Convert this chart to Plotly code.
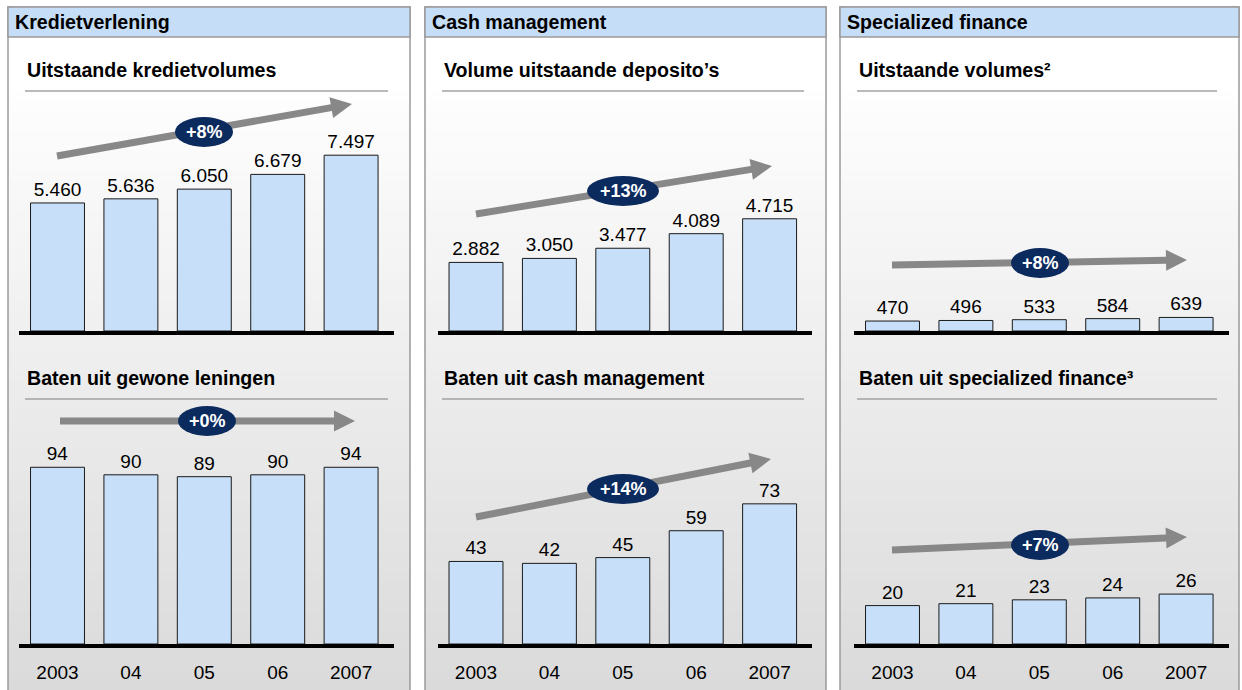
import math
import plotly.graph_objects as go

W, H = 1242, 690

# ---------------- data ----------------
years = ["2003", "04", "05", "06", "2007"]
panel_titles = ["Kredietverlening", "Cash management", "Specialized finance"]
top_titles = ["Uitstaande kredietvolumes", "Volume uitstaande deposito\u2019s", "Uitstaande volumes\u00b2"]
bottom_titles = ["Baten uit gewone leningen", "Baten uit cash management", "Baten uit specialized finance\u00b3"]

krediet_volumes = [5460, 5636, 6050, 6679, 7497]
deposito_volumes = [2882, 3050, 3477, 4089, 4715]
specialized_volumes = [470, 496, 533, 584, 639]
baten_leningen = [94, 90, 89, 90, 94]
baten_cash = [43, 42, 45, 59, 73]
baten_specialized = [20, 21, 23, 24, 26]

top_growth = ["+8%", "+13%", "+8%"]
bottom_growth = ["+0%", "+14%", "+7%"]

# ---------------- styling / layout helpers ----------------
FONT = "Arial, Liberation Sans, sans-serif"
BAR_FILL = "#c7dff8"
HEADER_FILL = "#c6ddf7"
BORDER = "#9a9a9a"
ARROW = "#888888"
NAVY = "#0b2a5e"
TITLE_SIZE = 19.6

def px(x):
    return x / W

def py(y):
    return 1 - y / H

panel_x = [(8, 410), (425, 826), (840, 1239)]
first_center = [57.5, 476, 892.5]
step = 73.4
xr = (-0.52, 4.58)
top_base, top_top = 331, 150
bot_base, bot_top = 644, 460
top_scale = [0.02345, 0.0238, 0.0212]
bot_scale = [1.88, 1.92, 1.92]

top_series = [krediet_volumes, deposito_volumes, specialized_volumes]
bot_series = [baten_leningen, baten_cash, baten_specialized]

# arrows: (tail x, tail y, tip x, tip y), badge centre
top_arrows = [(57, 156, 352, 104), (476, 214, 772, 166), (892, 265, 1187, 260)]
bot_arrows = [(60, 421, 355, 421), (476, 517, 771, 459), (892, 550, 1187, 537)]
top_badges = [(204, 132), (623, 191), (1040, 263)]
bot_badges = [(207, 421), (623, 489), (1040, 545)]

fig = go.Figure()
shapes = []
annotations = []

# gradient background
n_strips = 60
g0, g1 = 91, H
for i in range(n_strips):
    y0 = g0 + (g1 - g0) * i / n_strips
    y1 = g0 + (g1 - g0) * (i + 1) / n_strips + 0.5
    t = (i + 0.5) / n_strips
    c = int(round(254 - t * (254 - 218)))
    shapes.append(dict(type="rect", xref="paper", yref="paper", layer="below",
                       x0=0, x1=1, y0=py(y1), y1=py(y0), line=dict(width=0),
                       fillcolor=f"rgb({c},{c},{c})"))
# white gaps between panels
for (a, b) in [(0, 8), (410, 425), (826, 840), (1239, W)]:
    shapes.append(dict(type="rect", xref="paper", yref="paper", layer="below",
                       x0=px(a), x1=px(b), y0=0, y1=1, line=dict(width=0), fillcolor="white"))

for p in range(3):
    x0, x1 = panel_x[p]
    # panel frame
    shapes.append(dict(type="rect", xref="paper", yref="paper", layer="below",
                       x0=px(x0), x1=px(x1), y0=py(H + 5), y1=py(7),
                       line=dict(color=BORDER, width=1.5), fillcolor="rgba(0,0,0,0)"))
    # header
    shapes.append(dict(type="rect", xref="paper", yref="paper", layer="below",
                       x0=px(x0), x1=px(x1), y0=py(37), y1=py(7),
                       line=dict(color=BORDER, width=1.5), fillcolor=HEADER_FILL))
    annotations.append(dict(xref="paper", yref="paper", x=px(x0 + 5), y=py(22),
                            xanchor="left", yanchor="middle", showarrow=False,
                            text=f"<b>{panel_titles[p]}</b>",
                            font=dict(family=FONT, size=TITLE_SIZE, color="black")))
    # sub titles and rules
    for title, ty, ly in [(top_titles[p], 70, 91), (bottom_titles[p], 378, 399)]:
        annotations.append(dict(xref="paper", yref="paper", x=px(x0 + 17), y=py(ty),
                                xanchor="left", yanchor="middle", showarrow=False,
                                text=f"<b>{title}</b>",
                                font=dict(family=FONT, size=TITLE_SIZE, color="black")))
        shapes.append(dict(type="line", xref="paper", yref="paper",
                           x0=px(x0 + 17), x1=px(x1 - 22), y0=py(ly), y1=py(ly),
                           line=dict(color="#a3a3a3", width=1.5)))

    # axes domains
    c0 = first_center[p]
    dx0 = c0 + xr[0] * step
    dx1 = c0 + xr[1] * step
    for row, (series, base, top, scale) in enumerate(
            [(top_series[p], top_base, top_top, top_scale[p]),
             (bot_series[p], bot_base, bot_top, bot_scale[p])]):
        idx = p * 2 + row + 1
        xa = "x" if idx == 1 else f"x{idx}"
        ya = "y" if idx == 1 else f"y{idx}"
        fig.add_trace(go.Bar(
            x=list(range(5)), y=series, xaxis=xa, yaxis=ya,
            width=0.735, marker=dict(color=BAR_FILL, line=dict(color="#1a1a1a", width=1)),
            texttemplate="%{y:,.0f}", textposition="outside", cliponaxis=False,
            textfont=dict(family=FONT, size=19, color="black"),
            hoverinfo="skip", showlegend=False))
        xkey = "xaxis" if idx == 1 else f"xaxis{idx}"
        ykey = "yaxis" if idx == 1 else f"yaxis{idx}"
        fig.layout[xkey] = dict(
            domain=[px(dx0), px(dx1)], anchor=ya, range=list(xr),
            tickmode="array", tickvals=list(range(5)), ticktext=years,
            showticklabels=(row == 1), ticks="outside" if row == 1 else "",
            ticklen=8, tickcolor="rgba(0,0,0,0)",
            tickfont=dict(family=FONT, size=19, color="black"),
            showline=True, linecolor="black", linewidth=3.5,
            showgrid=False, zeroline=False, fixedrange=True)
        fig.layout[ykey] = dict(
            domain=[py(base), py(top)], anchor=xa,
            range=[0, (base - top) / scale],
            visible=False, showgrid=False, zeroline=False, fixedrange=True)

# arrows and badges
def arrow_path(tx, ty, hx, hy, shaft=3.5, head_w=10.5, head_l=21):
    L = math.hypot(hx - tx, hy - ty)
    ux, uy = (hx - tx) / L, (hy - ty) / L
    nx, ny = -uy, ux
    bx, by = hx - ux * head_l, hy - uy * head_l
    pts = [
        (tx + nx * shaft, ty + ny * shaft),
        (bx + nx * shaft, by + ny * shaft),
        (bx + nx * head_w, by + ny * head_w),
        (hx, hy),
        (bx - nx * head_w, by - ny * head_w),
        (bx - nx * shaft, by - ny * shaft),
        (tx - nx * shaft, ty - ny * shaft),
    ]
    return "M " + " L ".join(f"{px(a):.5f},{py(b):.5f}" for a, b in pts) + " Z"

for arrows, badges, labels in [(top_arrows, top_badges, top_growth),
                               (bot_arrows, bot_badges, bottom_growth)]:
    for (tx, ty, hx, hy), (bx, by), lab in zip(arrows, badges, labels):
        shapes.append(dict(type="path", xref="paper", yref="paper",
                           path=arrow_path(tx, ty, hx, hy),
                           fillcolor=ARROW, line=dict(width=0)))
        half_w = 29 if len(lab) <= 3 else 36
        shapes.append(dict(type="circle", xref="paper", yref="paper",
                           x0=px(bx - half_w), x1=px(bx + half_w),
                           y0=py(by + 15), y1=py(by - 15),
                           fillcolor=NAVY, line=dict(width=0)))
        annotations.append(dict(xref="paper", yref="paper", x=px(bx), y=py(by),
                                xanchor="center", yanchor="middle", showarrow=False,
                                text=f"<b>{lab}</b>",
                                font=dict(family=FONT, size=18, color="white")))

fig.update_layout(
    width=W, height=H, margin=dict(l=0, r=0, t=0, b=0),
    paper_bgcolor="white", plot_bgcolor="rgba(0,0,0,0)",
    separators=",.", bargap=0.2,
    shapes=shapes, annotations=annotations,
    font=dict(family=FONT),
)

fig.write_html("out.html", config={"displayModeBar": False},
               post_script="document.body.style.margin='0';document.body.style.overflow='hidden';")
